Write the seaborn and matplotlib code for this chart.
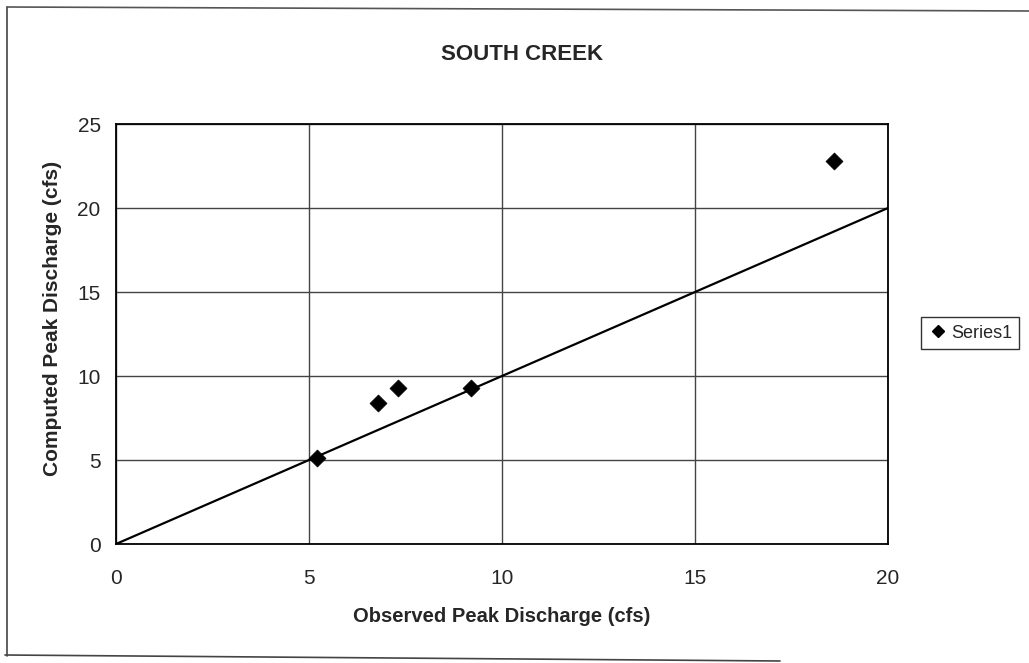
import matplotlib
matplotlib.use("Agg")
import matplotlib.pyplot as plt
import seaborn as sns
import pandas as pd
from matplotlib.lines import Line2D

# Observed vs computed peak discharge (cfs)
observed = [5.2, 6.8, 7.3, 9.2, 18.6]
computed = [5.1, 8.4, 9.3, 9.3, 22.8]

# 1:1 reference line
line_x = [0, 20]
line_y = [0, 20]

x_ticks = [0, 5, 10, 15, 20]
y_ticks = [0, 5, 10, 15, 20, 25]

sns.set_style("white")
plt.rcParams["font.family"] = ["Liberation Sans", "DejaVu Sans"]

W, H = 1029, 663
fig = plt.figure(figsize=(W / 100, H / 100), dpi=100)
ax = fig.add_axes([116 / W, 1 - 544 / H, 772 / W, 420 / H])

df = pd.DataFrame({"Observed": observed, "Computed": computed})
ref = pd.DataFrame({"x": line_x, "y": line_y})

sns.lineplot(data=ref, x="x", y="y", ax=ax, color="black", linewidth=1.6,
             legend=False, zorder=3)
sns.scatterplot(data=df, x="Observed", y="Computed", ax=ax, marker="D",
                s=75, color="black", edgecolor="black", linewidth=0.5,
                legend=False, zorder=4)

ax.set_xlim(0, 20)
ax.set_ylim(0, 25)
ax.set_xticks(x_ticks)
ax.set_yticks(y_ticks)
ax.grid(True, color="#444444", linewidth=1.0)
ax.set_axisbelow(True)
for side in ax.spines.values():
    side.set_color("black")
    side.set_linewidth(1.3)
ax.tick_params(axis="both", direction="out", length=6, width=1.0,
               color="black", labelsize=15, pad=5)
ax.tick_params(axis="x", pad=12)

ax.set_xlabel("Observed Peak Discharge (cfs)", fontsize=14.5,
              fontweight="bold")
ax.set_ylabel("Computed Peak Discharge (cfs)", fontsize=15,
              fontweight="bold")
# place axis titles by pixel position on the figure
ax.xaxis.set_label_coords(502 / W, 1 - 616 / H, transform=fig.transFigure)
ax.yaxis.set_label_coords(53 / W, 1 - 318 / H, transform=fig.transFigure)
ax.xaxis.label.set_va("center")
ax.yaxis.label.set_va("center")

fig.text(522 / W, 1 - 55 / H, "SOUTH CREEK", ha="center", va="center",
         fontsize=16, fontweight="bold")

# Legend
handle = Line2D([], [], marker="D", color="black", linestyle="none",
                markersize=6)
leg = fig.legend([handle], ["Series1"], loc="center",
                 bbox_to_anchor=(970 / W, 1 - 333 / H),
                 frameon=True, fancybox=False, fontsize=13,
                 handletextpad=0.15, borderpad=0.4, handlelength=1.1)
leg.get_frame().set_edgecolor("black")
leg.get_frame().set_linewidth(1.0)

# Chart-area border (left, top and bottom edges)
fig.add_artist(Line2D([7 / W, 7 / W], [1 - 7 / H, 1 - 656 / H],
                      color="#444444", linewidth=1.2, transform=fig.transFigure))
fig.add_artist(Line2D([7 / W, 1.0], [1 - 7 / H, 1 - 11 / H],
                      color="#555555", linewidth=1.2, transform=fig.transFigure))
fig.add_artist(Line2D([5 / W, 780 / W], [1 - 655 / H, 1 - 661 / H],
                      color="#444444", linewidth=1.2, transform=fig.transFigure))

fig.savefig("out.png", dpi=100)
